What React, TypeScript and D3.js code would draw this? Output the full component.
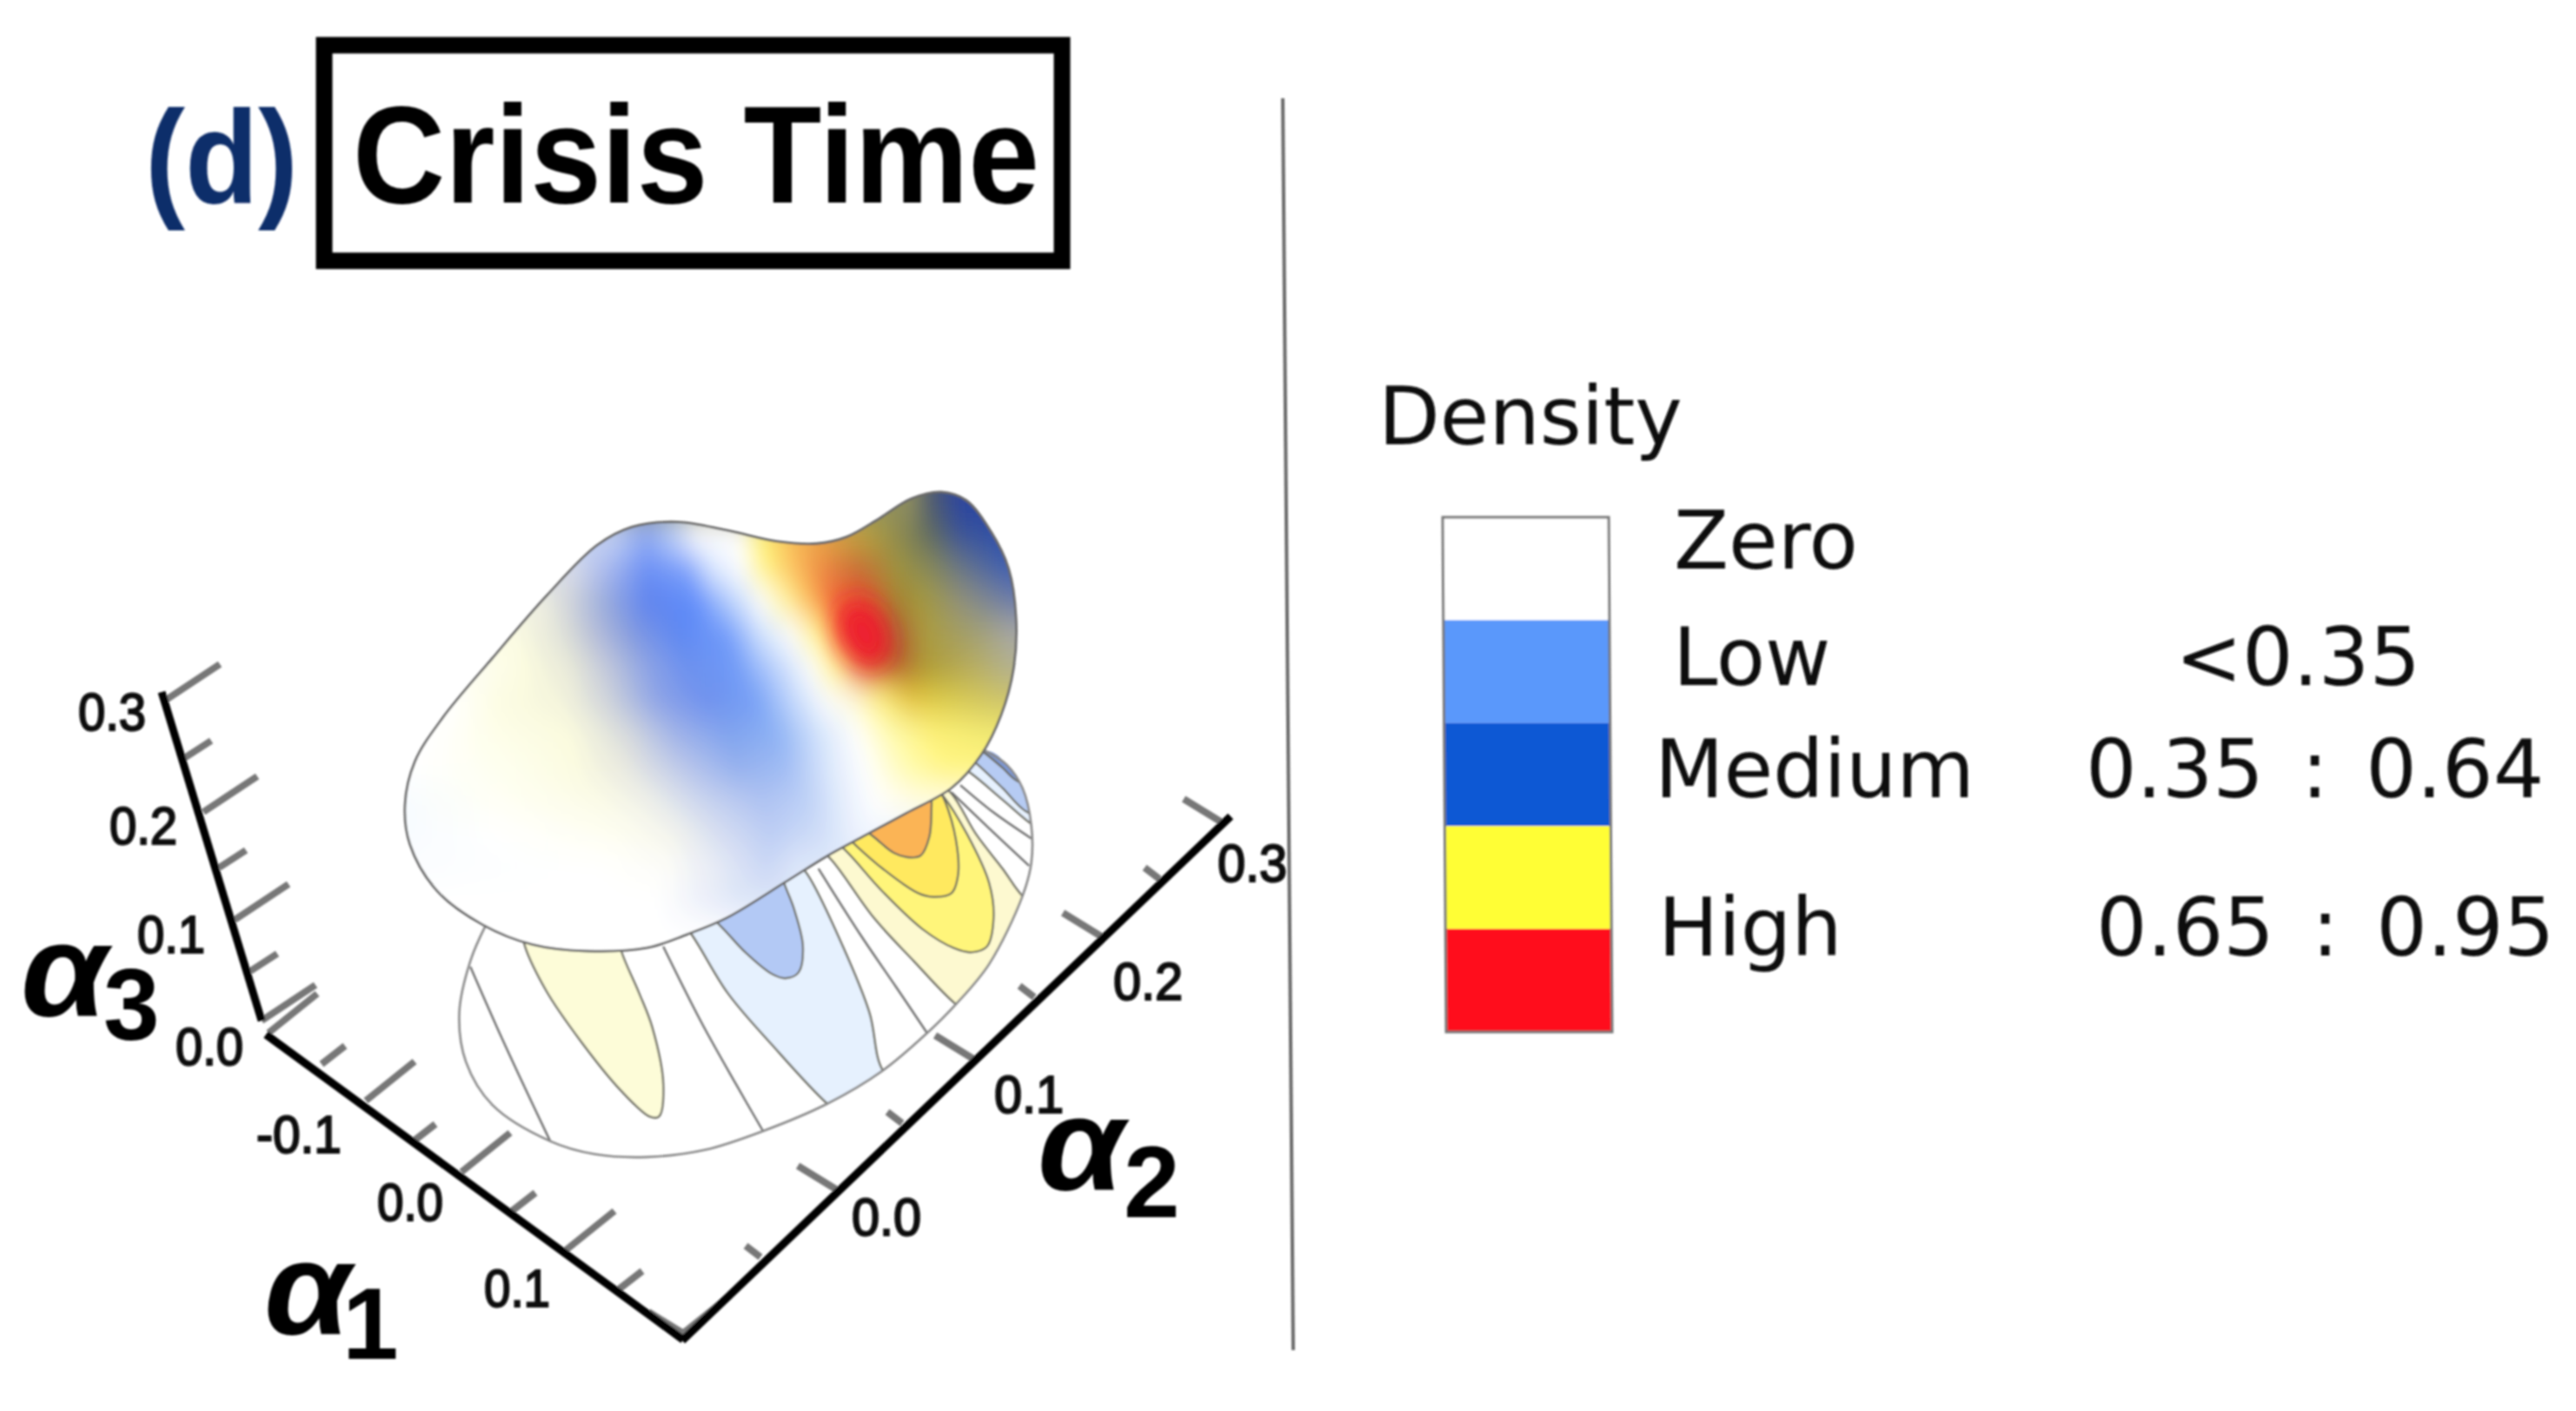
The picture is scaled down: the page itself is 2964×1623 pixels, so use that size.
import React, { useRef, useEffect } from 'react';
import * as d3 from 'd3';

const WIDTH = 2964;
const HEIGHT = 1623;

// axis ticks, every second one is a labelled major tick
const alpha1Ticks = [-0.2, -0.15, -0.1, -0.05, 0, 0.05, 0.1, 0.15, 0.2];
const alpha2Ticks = [-0.1, -0.05, 0, 0.05, 0.1, 0.15, 0.2, 0.25, 0.3];
const alpha3Ticks = [0, 0.05, 0.1, 0.15, 0.2, 0.25, 0.3];
const alpha1Labels = ['-0.1', '0.0', '0.1'];
const alpha2Labels = ['0.0', '0.1', '0.2', '0.3'];
const alpha3Labels = ['0.0', '0.1', '0.2', '0.3'];

// legend
const legendColors = ['#ffffff', '#5a98fb', '#0f58d4', '#fffe35', '#ff101e'];
const legendNames = ['Zero', 'Low', 'Medium', 'High'];
const legendRanges = ['<0.35', '0.35 : 0.64', '0.65 : 0.95'];

// surface outline, read in crop units of the upper crop
const blobOutline: [number, number][] = [
  [660, 210], [760, 235], [860, 268], [940, 275], [1000, 255], [1060, 205], [1130, 140], [1190, 120],
  [1240, 145], [1290, 240], [1325, 350], [1340, 500], [1335, 650], [1310, 790], [1270, 910], [1210, 1010],
  [1120, 1085], [1040, 1150], [960, 1215], [880, 1290], [760, 1400], [680, 1450], [600, 1490], [480, 1500],
  [370, 1480], [270, 1420], [180, 1320], [125, 1180], [115, 1060], [135, 930], [190, 800], [290, 620],
  [400, 430], [500, 280], [570, 225],
];

// colours of the surface, row by row: [x in crop units, colour]
const surfaceRowY = [150, 250, 350, 450, 550, 650, 750, 850, 950, 1050, 1150, 1250, 1350, 1450];
const surfaceRows: [number, string][][] = [
  [[1110, '#8f8f5f'], [1130, '#8a8a60'], [1170, '#4e5a70'], [1230, '#2a459f']],
  [[530, '#c5d3f5'], [600, '#8eaaf4'], [650, '#bcd0fa'], [700, '#ffffff'], [780, '#ffffff'], [830, '#fff27a'], [900, '#f7b755'], [950, '#e9a545'], [1050, '#b1a03f'], [1130, '#7c7f56'], [1170, '#5e6a60'], [1230, '#3a5398'], [1300, '#2f50a8']],
  [[450, '#d9dde8'], [520, '#a8b8ee'], [600, '#6a8ff5'], [680, '#7aa0fb'], [730, '#d8e6fe'], [790, '#ffffff'], [840, '#fff27a'], [900, '#fbb85a'], [950, '#ee8a45'], [1020, '#c86a35'], [1100, '#9f953c'], [1170, '#85885c'], [1250, '#5e7090'], [1320, '#3f60b0']],
  [[385, '#f1f1e2'], [440, '#d2d5d9'], [520, '#95a8dc'], [600, '#5e83ee'], [700, '#5f8cfb'], [770, '#b8d2fd'], [830, '#ffffff'], [880, '#fff59a'], [920, '#fcc35a'], [970, '#f4693a'], [1040, '#e0502d'], [1100, '#a7812f'], [1150, '#a59a3c'], [1230, '#91917a'], [1330, '#6c7da8']],
  [[330, '#fdfde3'], [430, '#e0e2d8'], [500, '#b3bbd8'], [580, '#7e97e0'], [660, '#5e88f2'], [760, '#6d98fa'], [830, '#cfe2fe'], [890, '#ffffff'], [950, '#fff37a'], [990, '#f8622f'], [1040, '#e03a2a'], [1090, '#b0552f'], [1160, '#ab9c3f'], [1250, '#a3a06c'], [1335, '#a9a9a5']],
  [[270, '#fdfdf0'], [350, '#fdfde0'], [450, '#e7e8d8'], [520, '#c2c8da'], [600, '#8ea4e4'], [680, '#6c90ee'], [780, '#6f9af7'], [860, '#bcd3fc'], [930, '#ffffff'], [980, '#fff48a'], [1040, '#e0602c'], [1100, '#b5602c'], [1160, '#ad9a35'], [1250, '#b7ac5c'], [1330, '#b2b18e']],
  [[210, '#ffffff'], [300, '#fdfde2'], [430, '#f4f4dc'], [520, '#d0d4da'], [620, '#8da3e6'], [720, '#6d90ee'], [820, '#76a0f6'], [900, '#c8dcfc'], [960, '#fbfcff'], [1010, '#fffde0'], [1070, '#fff280'], [1130, '#e7c83c'], [1200, '#dccc4c'], [1310, '#cfc566']],
  [[165, '#ffffff'], [300, '#fefee8'], [450, '#fbfbde'], [560, '#d8dbdc'], [660, '#9fb2e8'], [760, '#80a3ee'], [860, '#8bb0f4'], [950, '#d5e5fc'], [1020, '#ffffff'], [1090, '#fffcb0'], [1170, '#fff37a'], [1290, '#f2ea72']],
  [[130, '#ffffff'], [300, '#fefff0'], [450, '#fcfce0'], [560, '#e8e8e0'], [680, '#b8c5ea'], [780, '#93afee'], [880, '#a0bcf4'], [970, '#dfeafc'], [1040, '#ffffff'], [1120, '#fffbb0'], [1200, '#fff580']],
  [[115, '#f7fcff'], [300, '#fffff5'], [500, '#fcfce6'], [600, '#f0f1e8'], [720, '#c8d3ef'], [830, '#aec2f2'], [920, '#bcd0f6'], [1000, '#e8f0fd'], [1060, '#ffffff'], [1150, '#fffce0']],
  [[125, '#f8fcff'], [300, '#ffffff'], [550, '#fefef0'], [650, '#f5f5ec'], [750, '#d5ddf2'], [850, '#bccdf4'], [950, '#d0def8'], [1030, '#f0f5fe']],
  [[140, '#fbfdff'], [500, '#ffffff'], [640, '#fdfdf8'], [750, '#e5e9f5'], [840, '#cad7f5'], [900, '#dfe8fa']],
  [[200, '#ffffff'], [620, '#ffffff'], [700, '#eef1fa'], [780, '#dce5f8']],
  [[300, '#ffffff'], [680, '#ffffff']],
];
// the density peak on the surface: centre in crop units
const surfacePeak: [number, number] = [1035, 545];

// floor contours, read in crop units of the lower crop
const floorOutline: [number, number][] = [
  [1280, 40], [1330, 90], [1365, 170], [1385, 300], [1385, 430], [1365, 545], [1290, 780], [1215, 920],
  [1150, 1020], [1050, 1150], [925, 1265], [780, 1360], [650, 1425], [520, 1450], [400, 1440], [300, 1395],
  [170, 1270], [110, 1120], [95, 950], [120, 770], [155, 645],
];
const floorFills: { color: string; pts: [number, number][] }[] = [
  { color: '#fdfcd8', pts: [[240, 600], [240, 700], [290, 870], [370, 1050], [460, 1220], [525, 1310], [545, 1310], [555, 1200], [530, 1000], [500, 880], [460, 735], [440, 600]] },
  { color: '#e6f1fe', pts: [[560, 560], [620, 680], [700, 880], [800, 1060], [925, 1265], [990, 1340], [1120, 1240], [1050, 1150], [1020, 950], [960, 720], [880, 470], [840, 400]] },
  { color: '#b3c9f5', pts: [[620, 560], [685, 650], [740, 740], [800, 815], [830, 830], [860, 810], [870, 720], [850, 590], [830, 510], [810, 420]] },
  { color: '#fdf9d0', pts: [[880, 340], [935, 420], [1030, 620], [1120, 770], [1215, 920], [1300, 1010], [1480, 700], [1365, 545], [1320, 450], [1260, 330], [1205, 190], [1150, 120]] },
  { color: '#fff57a', pts: [[900, 300], [965, 385], [1050, 530], [1140, 660], [1210, 725], [1250, 740], [1285, 720], [1300, 620], [1290, 500], [1240, 330], [1185, 195], [1130, 110]] },
  { color: '#ffe95f', pts: [[930, 280], [990, 370], [1050, 450], [1130, 535], [1165, 548], [1205, 535], [1220, 470], [1215, 350], [1190, 215], [1160, 130]] },
  { color: '#fbb455', pts: [[980, 280], [1030, 340], [1075, 395], [1105, 410], [1135, 405], [1155, 340], [1160, 240], [1160, 160]] },
  { color: '#e6f1fe', pts: [[1200, 70], [1250, 120], [1320, 210], [1390, 300], [1440, 340], [1450, 100], [1300, -40]] },
  { color: '#b6cbf3', pts: [[1225, 40], [1265, 90], [1320, 170], [1372, 250], [1430, 280], [1450, 100], [1300, -40]] },
  { color: '#7d99d6', pts: [[1245, 10], [1285, 55], [1320, 100], [1352, 145], [1420, 180], [1450, 60], [1300, -40]] },
];
const floorLines: [number, number][][] = [
  [[120, 790], [180, 1000], [240, 1200], [300, 1395]],
  [[555, 720], [640, 980], [720, 1200], [780, 1360]],
  [[905, 450], [1000, 680], [1080, 860], [1150, 1020]],
  [[1205, 185], [1290, 310], [1380, 440]],
  [[1225, 160], [1300, 255], [1385, 345]],
];

function App() {
  const svgRef = useRef<SVGSVGElement | null>(null);

  useEffect(() => {
    const root = d3.select(svgRef.current);
    root.selectAll('*').remove();
    const defs = root.append('defs');

    root.append('rect').attr('width', WIDTH).attr('height', HEIGHT).attr('fill', '#ffffff');

    // the reference is an enlarged bitmap, everything is slightly soft
    defs.append('filter').attr('id', 'soft')
      .attr('filterUnits', 'userSpaceOnUse')
      .attr('x', 0).attr('y', 0).attr('width', WIDTH).attr('height', HEIGHT)
      .append('feGaussianBlur').attr('stdDeviation', 1);
    const svg = root.append('g').attr('filter', 'url(#soft)');

    // crop units -> page
    const upX = d3.scaleLinear().domain([0, 1568]).range([400, 1300]);
    const upY = d3.scaleLinear().domain([0, 1568]).range([520, 1120]);
    const lowX = d3.scaleLinear().domain([0, 1568]).range([480, 1280]);
    const lowY = d3.scaleLinear().domain([0, 1568]).range([850, 1370]);

    const lineUp = d3.line<[number, number]>().x((d) => upX(d[0])).y((d) => upY(d[1]));
    const lineLow = d3.line<[number, number]>().x((d) => lowX(d[0])).y((d) => lowY(d[1]));

    // floor
    defs.append('clipPath').attr('id', 'floorClip').append('path')
      .attr('d', lineLow.curve(d3.curveCatmullRomClosed)(floorOutline));
    const floor = svg.append('g').attr('clip-path', 'url(#floorClip)');
    floor.selectAll('.fill').data(floorFills).join('path')
      .attr('class', 'fill')
      .attr('d', (d) => lineLow.curve(d3.curveCatmullRom)(d.pts) + 'Z')
      .attr('fill', (d) => d.color)
      .attr('stroke', '#6d6d62')
      .attr('stroke-width', 2.4);
    floor.selectAll('.contour').data(floorLines).join('path')
      .attr('class', 'contour')
      .attr('d', (d) => lineLow.curve(d3.curveCatmullRom)(d))
      .attr('fill', 'none')
      .attr('stroke', '#6f6f6f')
      .attr('stroke-width', 2.4);
    svg.append('path')
      .attr('d', lineLow.curve(d3.curveCatmullRom)(floorOutline))
      .attr('fill', 'none')
      .attr('stroke', '#8a8a8a')
      .attr('stroke-width', 2.6);

    // surface
    const blobPath = lineUp.curve(d3.curveCatmullRomClosed)(blobOutline) as string;
    defs.append('clipPath').attr('id', 'blobClip').append('path').attr('d', blobPath);
    const blur = defs.append('filter').attr('id', 'surfaceBlur')
      .attr('filterUnits', 'userSpaceOnUse')
      .attr('x', 200).attr('y', 400).attr('width', 1300).attr('height', 900);
    blur.append('feGaussianBlur').attr('stdDeviation', '9 18');
    const peakBlur = defs.append('filter').attr('id', 'peakBlur')
      .attr('filterUnits', 'userSpaceOnUse')
      .attr('x', 800).attr('y', 550).attr('width', 400).attr('height', 400);
    peakBlur.append('feGaussianBlur').attr('stdDeviation', 14);

    const left = upX(0);
    const right = upX(1568);
    surfaceRows.forEach((row, i) => {
      const grad = defs.append('linearGradient').attr('id', `row${i}`)
        .attr('gradientUnits', 'userSpaceOnUse')
        .attr('x1', left).attr('x2', right).attr('y1', 0).attr('y2', 0);
      row.forEach(([x, color]) => {
        grad.append('stop').attr('offset', x / 1568).attr('stop-color', color);
      });
    });
    svg.append('path').attr('d', blobPath).attr('fill', '#ffffff');
    const clipped = svg.append('g').attr('clip-path', 'url(#blobClip)');
    const surface = clipped.append('g').attr('filter', 'url(#surfaceBlur)');
    surface.selectAll('rect').data(surfaceRowY).join('rect')
      .attr('x', left - 100)
      .attr('width', right - left + 200)
      .attr('y', (d, i) => upY(d - 50 - (i === 0 ? 200 : 0)))
      .attr('height', (d, i) => upY(100 + (i === 0 ? 200 : 0)) - upY(0) + (i === surfaceRowY.length - 1 ? 100 : 1))
      .attr('fill', (d, i) => `url(#row${i})`);
    clipped.append('ellipse')
      .attr('cx', upX(surfacePeak[0])).attr('cy', upY(surfacePeak[1]))
      .attr('rx', 26).attr('ry', 40)
      .attr('transform', `rotate(-25 ${upX(surfacePeak[0])} ${upY(surfacePeak[1])})`)
      .attr('fill', '#ee1a2e')
      .attr('filter', 'url(#peakBlur)');
    svg.append('path').attr('d', blobPath)
      .attr('fill', 'none').attr('stroke', '#6a6a6a').attr('stroke-width', 2.8);

    // axes: perspective makes the tick spacing uneven, so the scales are piecewise
    const a1X = d3.scaleLinear().domain(alpha1Ticks).range([309, 370, 421, 474, 531, 589, 651, 712, 783]);
    const a1Y = d3.scaleLinear().domain(alpha1Ticks).range([1188, 1224, 1266, 1314, 1348, 1393, 1438, 1483, 1536]);
    const a2X = d3.scaleLinear().domain(alpha2Ticks).range([790, 875, 962, 1038, 1120, 1190, 1267, 1334, 1406]);
    const a2Y = d3.scaleLinear().domain(alpha2Ticks).range([1536, 1446, 1368, 1292, 1218, 1147, 1077, 1011, 946]);
    const a3X = d3.scaleLinear().domain(alpha3Ticks).range([301, 288, 270, 252, 234, 212, 191]);
    const a3Y = d3.scaleLinear().domain(alpha3Ticks).range([1174, 1117, 1058, 998, 934, 872, 805]);

    const isMajor = (i: number) => i % 2 === 0;
    const drawTicks = (
      ticks: number[], sx: d3.ScaleLinear<number, number>, sy: d3.ScaleLinear<number, number>,
      major: [number, number], minor: [number, number], name: string
    ) => {
      svg.selectAll(`.${name}`).data(ticks).join('line')
        .attr('class', name)
        .attr('x1', (d) => sx(d)).attr('y1', (d) => sy(d))
        .attr('x2', (d, i) => sx(d) + (isMajor(i) ? major : minor)[0])
        .attr('y2', (d, i) => sy(d) + (isMajor(i) ? major : minor)[1])
        .attr('stroke', '#777777')
        .attr('stroke-width', 8);
    };
    drawTicks(alpha1Ticks, a1X, a1Y, [56, -45], [27, -21], 'tick1');
    drawTicks(alpha2Ticks, a2X, a2Y, [-44, -27], [-17, -13], 'tick2');
    drawTicks(alpha3Ticks, a3X, a3Y, [62, -41], [31, -20], 'tick3');

    const axisLines: [number, number, number, number][] = [
      [a3X(0), a3Y(0), a3X(0.3) - 5, a3Y(0.3) - 9],
      [a1X(-0.2) - 3, a1Y(-0.2) + 2, a1X(0.2) + 3, a1Y(0.2) + 5],
      [a2X(-0.1) - 5, a2Y(-0.1) + 6, a2X(0.3) + 10, a2Y(0.3) - 7],
    ];
    svg.selectAll('.axis').data(axisLines).join('line')
      .attr('class', 'axis')
      .attr('x1', (d) => d[0]).attr('y1', (d) => d[1])
      .attr('x2', (d) => d[2]).attr('y2', (d) => d[3])
      .attr('stroke', '#050505')
      .attr('stroke-width', 9);

    const tickLabel = (text: string, x: number, y: number, anchor: string, len: number) =>
      svg.append('text')
        .attr('x', x).attr('y', y)
        .attr('text-anchor', anchor)
        .attr('font-family', 'Liberation Sans')
        .attr('font-size', 62)
        .attr('fill', '#0a0a0a')
        .attr('stroke', '#0a0a0a')
        .attr('stroke-width', 2.2)
        .attr('textLength', len)
        .attr('lengthAdjust', 'spacingAndGlyphs')
        .text(text);

    const a3Nudge = [[-21, 51], [-34, 38], [-30, 37], [-23, 35]];
    alpha3Labels.forEach((t, i) => {
      const v = i / 10;
      tickLabel(t, a3X(v) + a3Nudge[i][0], a3Y(v) + a3Nudge[i][1], 'end', 78);
    });
    const a1Nudge = [[-28, 60], [-21, 56], [-18, 65]];
    alpha1Labels.forEach((t, i) => {
      const v = (i - 1) / 10;
      tickLabel(t, a1X(v) + a1Nudge[i][0], a1Y(v) + a1Nudge[i][1], 'end', i === 0 ? 98 : 76);
    });
    const a2Nudge = [[18, 53], [24, 62], [14, 73], [-5, 68]];
    alpha2Labels.forEach((t, i) => {
      const v = i / 10;
      tickLabel(t, a2X(v) + a2Nudge[i][0], a2Y(v) + a2Nudge[i][1], 'start', 80);
    });

    // axis names
    const axisName = (x: number, y: number, sub: string, subX: number, subY: number) => {
      svg.append('text').attr('x', x).attr('y', y)
        .attr('font-family', 'Liberation Sans').attr('font-weight', 700).attr('font-style', 'italic')
        .attr('font-size', 152).attr('fill', '#050505')
        .attr('textLength', 100).attr('lengthAdjust', 'spacingAndGlyphs')
        .text('α');
      svg.append('text').attr('x', subX).attr('y', subY)
        .attr('font-family', 'Liberation Sans').attr('font-weight', 700)
        .attr('font-size', 116).attr('fill', '#050505').text(sub);
    };
    axisName(24, 1168, '3', 119, 1196);
    axisName(304, 1534, '1', 394, 1563);
    axisName(1194, 1368, '2', 1293, 1400);

    // divider
    svg.append('line')
      .attr('x1', 1476).attr('y1', 113).attr('x2', 1488).attr('y2', 1553)
      .attr('stroke', '#6a6a6a').attr('stroke-width', 4);

    // title
    svg.append('text')
      .attr('x', 167).attr('y', 233)
      .attr('font-family', 'Liberation Sans').attr('font-weight', 700)
      .attr('font-size', 152).attr('fill', '#0f2d6b')
      .attr('textLength', 176).attr('lengthAdjust', 'spacingAndGlyphs')
      .text('(d)');
    svg.append('rect')
      .attr('x', 373).attr('y', 52).attr('width', 849).attr('height', 248)
      .attr('fill', 'none').attr('stroke', '#050505').attr('stroke-width', 19);
    svg.append('text')
      .attr('x', 406).attr('y', 233)
      .attr('font-family', 'Liberation Sans').attr('font-weight', 700)
      .attr('font-size', 160).attr('fill', '#050505')
      .attr('textLength', 790).attr('lengthAdjust', 'spacingAndGlyphs')
      .text('Crisis Time');

    // legend
    const swatchY = d3.scaleLinear().domain([0, legendColors.length]).range([595, 1187]);
    const swatchX = d3.scaleLinear().domain([0, legendColors.length]).range([1660, 1664]);
    svg.selectAll('.swatch').data(legendColors).join('rect')
      .attr('class', 'swatch')
      .attr('x', (d, i) => swatchX(i))
      .attr('y', (d, i) => swatchY(i))
      .attr('width', 191)
      .attr('height', (d, i) => swatchY(i + 1) - swatchY(i))
      .attr('fill', (d) => d);
    svg.append('path')
      .attr('d', `M${swatchX(0)},${swatchY(0)}H${swatchX(0) + 191}L${swatchX(5) + 191},${swatchY(5)}H${swatchX(5)}Z`)
      .attr('fill', 'none').attr('stroke', '#777777').attr('stroke-width', 3);

    const legendText = (t: string, x: number, y: number, spacing = 0) =>
      svg.append('text').attr('x', x).attr('y', y)
        .attr('font-family', 'DejaVu Sans').attr('font-size', 92)
        .attr('fill', '#0a0a0a').attr('word-spacing', spacing).text(t);
    legendText('Density', 1586, 511);
    const nameX = [1926, 1925, 1904, 1908];
    const nameY = [654, 788, 917, 1099];
    legendNames.forEach((t, i) => legendText(t, nameX[i], nameY[i]));
    const rangeX = [2503, 2400, 2412];
    const rangeY = [788, 917, 1099];
    legendRanges.forEach((t, i) => legendText(t, rangeX[i], rangeY[i], i === 0 ? 0 : 14));
  }, []);

  return (
    <svg
      ref={svgRef}
      width={WIDTH}
      height={HEIGHT}
      viewBox={`0 0 ${WIDTH} ${HEIGHT}`}
      style={{ position: 'absolute', left: 0, top: 0 }}
    />
  );
}

export default App;
